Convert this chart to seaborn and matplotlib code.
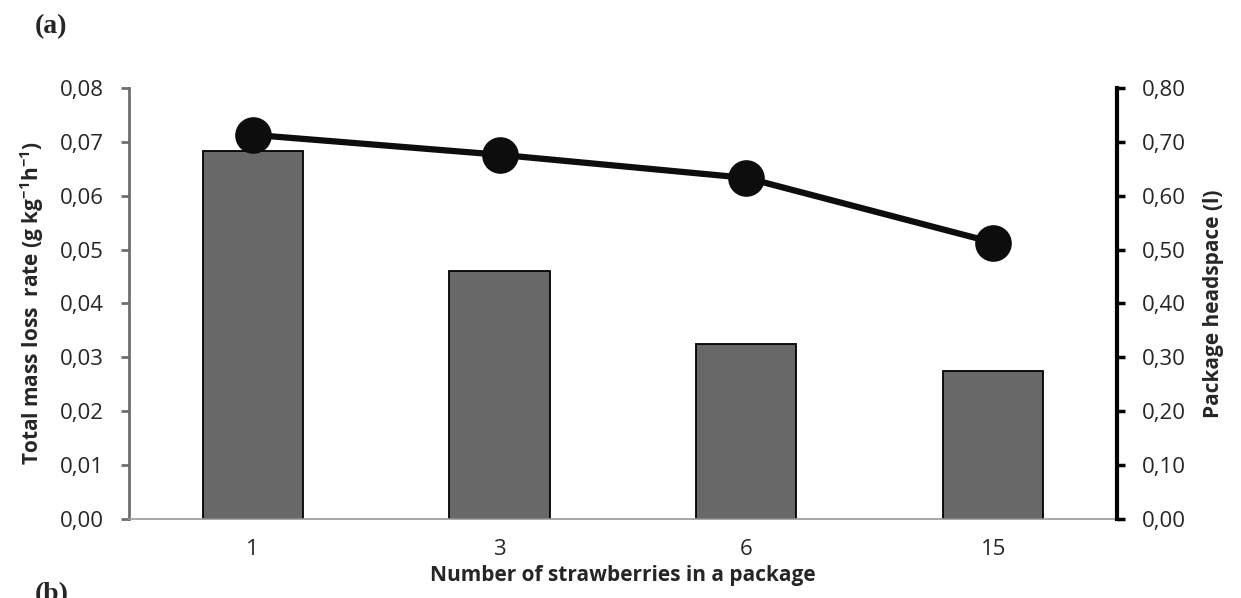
import matplotlib
matplotlib.use("Agg")
import matplotlib.pyplot as plt
from matplotlib.ticker import FuncFormatter, FixedLocator
import seaborn as sns
import pandas as pd

# Data
strawberries = ["1", "3", "6", "15"]
mass_loss_rate = [0.0683, 0.0460, 0.0325, 0.0275]      # g kg-1 h-1
headspace = [0.713, 0.676, 0.633, 0.513]              # l

df = pd.DataFrame({"n": strawberries, "rate": mass_loss_rate, "head": headspace})

sns.set_style("white")
plt.rcParams["font.family"] = ["Open Sans", "DejaVu Sans"]
plt.rcParams["mathtext.fontset"] = "custom"
plt.rcParams["mathtext.rm"] = "Open Sans:bold"
plt.rcParams["mathtext.it"] = "Open Sans:bold"
plt.rcParams["mathtext.bf"] = "Open Sans:bold"

fig = plt.figure(figsize=(12.41, 5.98), dpi=100)
ax = fig.add_axes([0.104, 0.132, 0.796, 0.721])

sns.barplot(data=df, x="n", y="rate", ax=ax, color="#686868", saturation=1,
            width=0.405, edgecolor="black", linewidth=1.3, order=strawberries)

ax2 = ax.twinx()
sns.pointplot(data=df, x="n", y="head", ax=ax2, color="#0d0d0d", order=strawberries,
              markers="o", markersize=23, linewidth=4.5)

ax.set_xlim(-0.5, 3.5)
ax.set_ylim(0, 0.08)
ax2.set_ylim(0, 0.80)

comma = lambda fmt: FuncFormatter(lambda v, p: fmt.format(v).replace(".", ","))
ax.set_yticks([i * 0.01 for i in range(9)])
ax.yaxis.set_major_formatter(comma("{:.2f}"))
ax2.set_yticks([i * 0.1 for i in range(9)])
ax2.yaxis.set_major_formatter(comma("{:.2f}"))

# category labels without ticks, boundary ticks as minor
ax.tick_params(axis="x", which="major", length=0, pad=14, labelsize=16)
ax.xaxis.set_minor_locator(FixedLocator([-0.5, 0.5, 1.5, 2.5, 3.5]))
ax.tick_params(axis="x", which="minor", length=8, width=1.2, color="#8c8c8c", direction="out")
ax.tick_params(axis="y", length=6, width=2, color="#6e6e6e", direction="out", labelsize=16, pad=12)
ax2.tick_params(axis="y", length=6, width=2.5, color="black", direction="out", labelsize=16, pad=12)

for s in ["top"]:
    ax.spines[s].set_visible(False)
    ax2.spines[s].set_visible(False)
ax.spines["right"].set_visible(False)
ax2.spines["left"].set_visible(False)
ax2.spines["bottom"].set_visible(False)
ax.spines["left"].set_color("#6e6e6e")
ax.spines["left"].set_linewidth(2)
ax.spines["bottom"].set_color("#9a9a9a")
ax.spines["bottom"].set_linewidth(1.2)
ax2.spines["right"].set_color("black")
ax2.spines["right"].set_linewidth(3)

ax.set_xlabel("Number of strawberries in a package", fontsize=15, fontweight="bold", labelpad=4)
ax.set_ylabel("Total mass loss  rate (g kg$^{-1}$h$^{-1}$)", fontsize=15, fontweight="bold", labelpad=10)
ax2.set_ylabel("Package headspace (l)", fontsize=15, fontweight="bold", labelpad=12)

fig.text(0.028, 0.955, "(a)", fontsize=20, fontweight="bold", family="Liberation Serif", va="center")
fig.text(0.028, 0.005, "(b)", fontsize=20, fontweight="bold", family="Liberation Serif", va="center")

fig.savefig("out.png", dpi=100, facecolor="white")
